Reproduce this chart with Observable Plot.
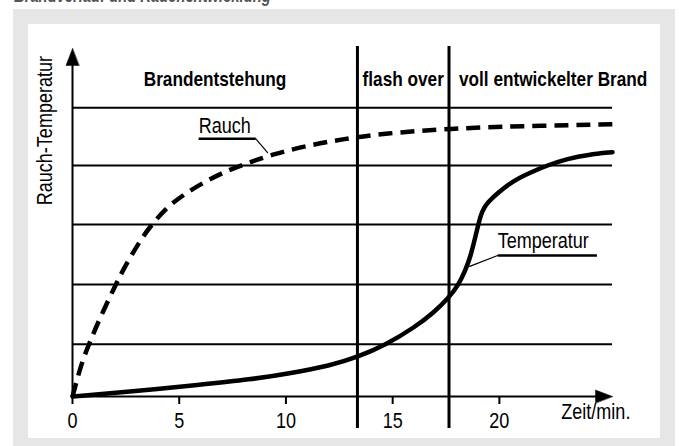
<!DOCTYPE html>
<html><head><meta charset="utf-8">
<script src="https://cdn.jsdelivr.net/npm/d3@7"></script>
<script src="https://cdn.jsdelivr.net/npm/@observablehq/plot@0.6"></script>
<style>
html,body{margin:0;padding:0;background:#fff;}
#wrap{position:relative;width:679px;height:446px;overflow:hidden;}
#title{position:absolute;left:14px;top:-14px;font:italic bold 18px "Liberation Sans",Arial,sans-serif;color:#555;white-space:nowrap;transform:scaleX(0.82);transform-origin:0 0;}
#frame{position:absolute;left:13px;top:9px;width:662px;height:440px;background:#e6e6e6;}
#panel{position:absolute;left:28px;top:24px;width:632px;height:414px;background:#fff;}
#chart{position:absolute;left:0;top:0;}
</style></head><body>
<div id="wrap"><div id="title">Brandverlauf und Rauchentwicklung</div><div id="frame"></div><div id="panel"></div><div id="chart"></div></div>
<script>
// ---- data ----
const rauchMin  = [0, 0.2, 0.45, 0.8, 1.27, 1.97, 2.44, 3.09, 3.61, 4.41, 5.2, 6.19, 7.08, 7.88, 9.42, 11.02, 12.7, 14.58, 17.72, 20.86, 25.3];
const rauchVal  = [0, 4.5, 10, 15.5, 22.3, 31.5, 37.2, 44.0, 48.7, 54.3, 58.0, 61.7, 64.4, 66.4, 69.7, 72.1, 74.0, 75.6, 77.0, 77.7, 78.2];
const tempMin   = [0, 2.72, 6.0, 8.34, 10.13, 12.1, 13.35, 14.7, 16.08, 16.92, 17.63, 18.1, 18.4, 18.64, 18.9, 19.13, 19.3, 19.46, 19.93, 20.68, 21.47, 22.27, 23.2, 24.14, 25.3];
const tempVal   = [0, 1.4, 3.4, 4.9, 6.6, 8.9, 11.3, 14.9, 20.1, 24.1, 28.4, 32.2, 36.2, 40.0, 46.5, 52.4, 54.4, 55.8, 58.6, 62.1, 64.4, 66.5, 68.3, 69.5, 70.2];
const xTicks    = [0, 5, 10, 15, 20];
const gridLevels = [15, 32.2, 49.4, 66.4, 83];
const phaseNames = ["Brandentstehung", "flash over", "voll entwickelter Brand"];
const phaseStart = [0, 13.35, 17.64];
const phaseEnd   = [13.35, 17.64, 27.4];
const xEnd = 25.3, yTop = 100;
const xLabel = "Zeit/min.", yLabel = "Rauch-Temperatur";

// annotations
const rauchNote = {text: "Rauch", x: 5.91, y: 77.7, line: [[5.91, 74.1], [8.58, 74.1], [9.14, 70.1]]};
const tempNote  = {text: "Temperatur", x: 19.92, y: 44.8, line: [[24.57, 40.5], [19.92, 40.5], [18.61, 37.4]]};

// ---- build ----
const rauch = rauchMin.map((m, i) => ({m, v: rauchVal[i]}));
const temp  = tempMin.map((m, i) => ({m, v: tempVal[i]}));
const phases = phaseNames.map((name, i) => ({name, start: phaseStart[i], end: phaseEnd[i]}));
const boundaries = phaseStart.slice(1);
const FONT = '"Liberation Sans",Arial,sans-serif';
const NARROW = 0.82;

const arrowHead = {
  draw(context, l) {
    context.moveTo(0, -l);
    context.lineTo(-6.5, 0);
    context.lineTo(6.5, 0);
    context.closePath();
  }
};

const chart = Plot.plot({
  width: 679, height: 446,
  marginLeft: 72, marginRight: 67, marginTop: 48, marginBottom: 50,
  style: {background: "transparent", fontFamily: FONT, color: "black"},
  x: {domain: [0, xEnd], axis: null},
  y: {domain: [0, yTop], axis: null},
  marks: [
    Plot.ruleY(gridLevels, {x1: 0, x2: xEnd, strokeWidth: 2}),
    Plot.ruleX(boundaries, {y1: -9.2, y2: 100.6, strokeWidth: 3}),
    Plot.ruleX([0], {y1: 0, y2: yTop - 3, strokeWidth: 2}),
    Plot.ruleY([0], {x1: 0, x2: xEnd - 0.5, strokeWidth: 2}),
    Plot.vector([{x: 0, y: yTop, r: 0}, {x: xEnd, y: 0, r: 90}], {x: "x", y: "y", rotate: "r", length: 17, anchor: "end", shape: arrowHead, fill: "black", stroke: "black", strokeWidth: 0.5}),
    Plot.axisX({ticks: xTicks, tickSize: 8, tickPadding: 8, fontSize: 22, strokeWidth: 2, label: null, tickFormat: d => String(d)}),
    Plot.line(rauch, {x: "m", y: "v", curve: "basis", stroke: "black", strokeWidth: 4.5, strokeDasharray: "14,8", strokeLinecap: "butt"}),
    Plot.line(temp, {x: "m", y: "v", curve: "basis", stroke: "black", strokeWidth: 4.5}),
    Plot.text(phases, {x: d => (d.start + d.end) / 2, y: 91.1, text: "name", fontSize: 21, fontWeight: "bold", lineAnchor: "middle"}),
    Plot.text([xLabel], {x: 22.9, y: -4.45, text: d => d, textAnchor: "start", fontSize: 22, lineAnchor: "middle"}),
    Plot.text([yLabel], {x: -1.27, y: 76.4, text: d => d, rotate: -90, fontSize: 22, lineAnchor: "middle"}),
    Plot.text([rauchNote, tempNote], {x: "x", y: "y", text: "text", textAnchor: "start", fontSize: 22, lineAnchor: "middle"}),
    Plot.line(rauchNote.line.slice(0, 2), {x: d => d[0], y: d => d[1], strokeWidth: 2.5, strokeLinecap: "butt"}),
    Plot.line(rauchNote.line.slice(1), {x: d => d[0], y: d => d[1], strokeWidth: 1.2}),
    Plot.line(tempNote.line.slice(0, 2), {x: d => d[0], y: d => d[1], strokeWidth: 2.5, strokeLinecap: "butt"}),
    Plot.line(tempNote.line.slice(1), {x: d => d[0], y: d => d[1], strokeWidth: 1.2})
  ]
});
// condense all text horizontally (narrow Helvetica look)
chart.querySelectorAll("text").forEach(t => {
  const tr = t.getAttribute("transform");
  if (tr) t.setAttribute("transform", tr + ` scale(${NARROW},1)`);
  else {
    const x = +(t.getAttribute("x") || 0);
    t.setAttribute("transform", `translate(${x},0) scale(${NARROW},1) translate(${-x},0)`);
  }
});
document.getElementById("chart").append(chart);
</script>
</body></html>
